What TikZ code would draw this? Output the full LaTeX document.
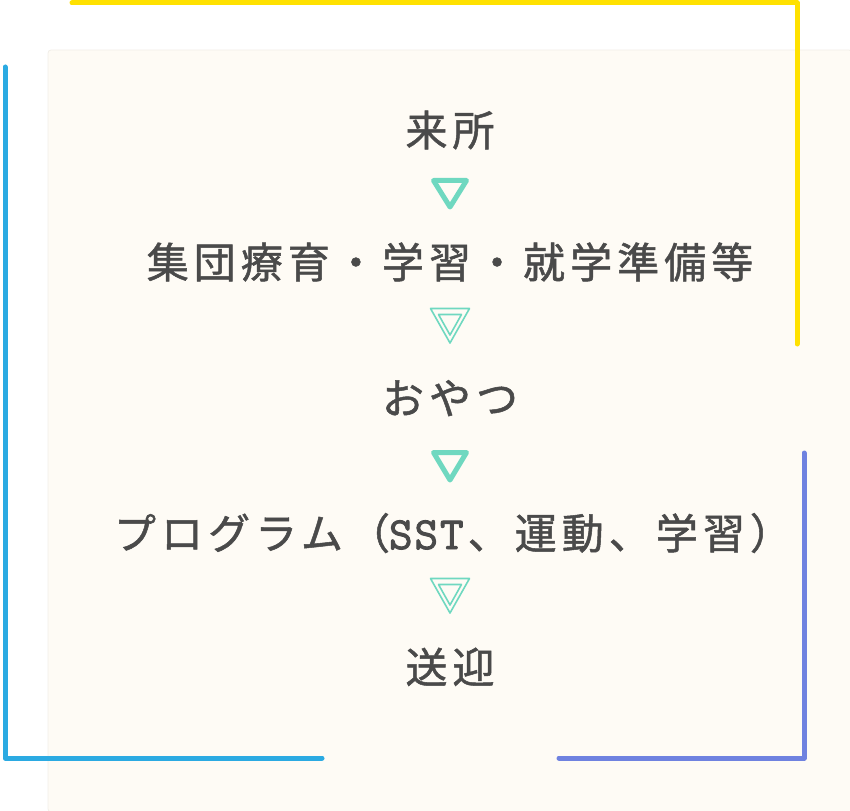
\documentclass[tikz,border=0pt]{standalone}
\usepackage{fontspec}
\newfontfamily\jp[LetterSpace=12,FakeBold=1.2]{Noto Sans CJK JP}
\newfontfamily\mono[FakeBold=2,LetterSpace=4]{Latin Modern Mono}
\definecolor{panel}{HTML}{FEFBF5}
\definecolor{panelline}{HTML}{F1EEE8}
\definecolor{txt}{HTML}{4A4A4A}
\definecolor{mint}{HTML}{6FD8C0}
\definecolor{yel}{HTML}{FFE100}
\definecolor{sky}{HTML}{2BAAE2}
\definecolor{lav}{HTML}{6F82E0}
\tikzset{
  step label/.style={anchor=base, text=txt, font=\jp\fontsize{42}{42}\selectfont, inner sep=0pt},
  frame line/.style={line width=5pt, line cap=round, line join=round},
  solid tri/.style={draw=mint, line width=5pt, line join=round},
  open tri/.style={draw=mint, line width=1.6pt, line join=round},
}
\begin{document}
\begin{tikzpicture}[x=1pt,y=-1pt]
\useasboundingbox (0,0) rectangle (850,810);
% panel
\fill[panel, draw=panelline, line width=0.8pt, rounded corners=3pt] (48,50) rectangle (852,812);
% frame lines
\draw[frame line, yel] (72,3) -- (797,3) -- (797,344);
\draw[frame line, sky] (5,67) -- (5,758) -- (322,758);
\draw[frame line, lav] (559,758) -- (804,758) -- (804,453);
% steps
\node[step label] (s1) at (450,146) {来所};
\node[step label] (s2) at (450,278) {集団療育・学習・就学準備等};
\node[step label] (s3) at (450,414) {おやつ};
\node[step label] (s4) at (453,549) {プログラム（\hspace{-1pt}{\mono\fontsize{46}{46}\selectfont SST}\hspace{4pt}、運動、学習）};
\node[step label] (s5) at (450,683) {送迎};
% arrows (triangles)
\draw[solid tri] (433.5,180.5) -- (466.5,180.5) -- (450,207) -- cycle;
\draw[open tri] (430.5,308.5) -- (469.5,308.5) -- (450,343) -- cycle;
\draw[open tri] (438.5,314.5) -- (461.5,314.5) -- (450,335) -- cycle;
\draw[solid tri] (433.5,452.5) -- (466.5,452.5) -- (450,480) -- cycle;
\draw[open tri] (430.5,578.5) -- (469.5,578.5) -- (450,613) -- cycle;
\draw[open tri] (438.5,584.5) -- (461.5,584.5) -- (450,605) -- cycle;
\end{tikzpicture}
\end{document}
